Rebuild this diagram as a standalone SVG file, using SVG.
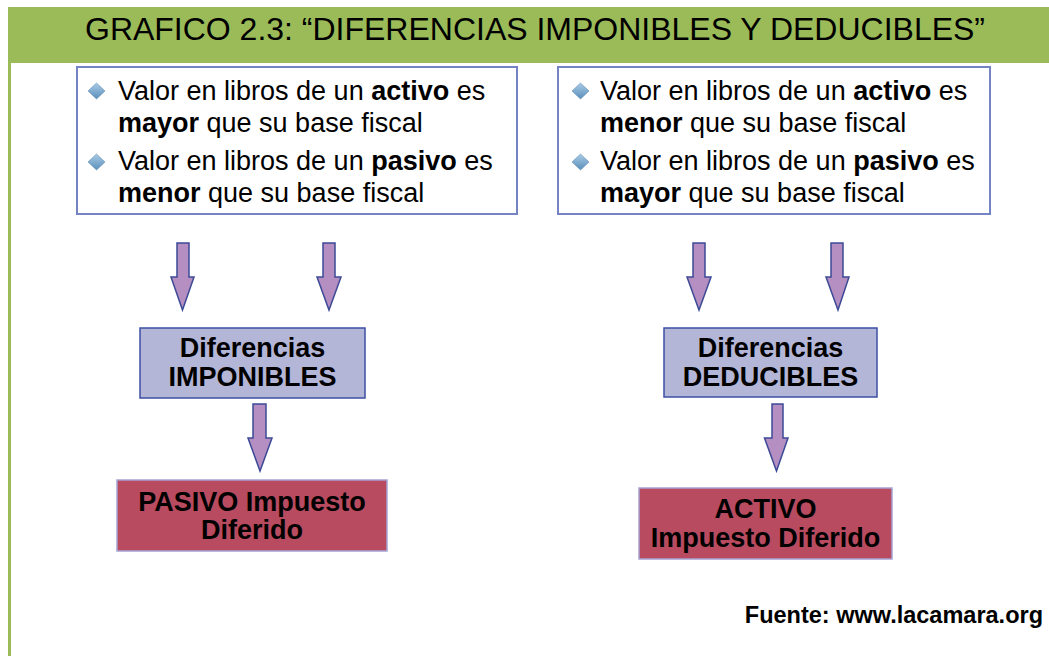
<svg xmlns="http://www.w3.org/2000/svg" width="1049" height="656" viewBox="0 0 1049 656">
<defs>
<linearGradient id="dg" x1="0" y1="0" x2="0" y2="1">
<stop offset="0" stop-color="#a9cbe6"/>
<stop offset="1" stop-color="#5b8fba"/>
</linearGradient>
<style>
.t{font-family:"Liberation Sans",Arial,sans-serif;fill:#000}
.lst{font-size:27px}
.b{font-weight:bold}
.nb{font-size:27px;font-weight:bold;text-anchor:middle}
.box{fill:#fff;stroke:#7383c4;stroke-width:2}
.lav{fill:#b4b6d8;stroke:#3d4fa3;stroke-width:1.5}
.red{fill:#b84b5f;stroke:#a6a3d3;stroke-width:1.5}
.arr{fill:#b58fc2;stroke:#3c4a96;stroke-width:1.5;stroke-linejoin:miter}
.dia{fill:url(#dg);stroke:#4f7fa8;stroke-width:0.5}
</style>
</defs>
<rect x="8" y="7" width="1041" height="56" fill="#9bbb59"/>
<rect x="8" y="62" width="3" height="594" fill="#9bbb59"/>
<text class="t" x="535" y="40" font-size="32" text-anchor="middle" textLength="900" lengthAdjust="spacingAndGlyphs">GRAFICO 2.3: “DIFERENCIAS IMPONIBLES Y DEDUCIBLES”</text>

<g id="box-left">
<rect class="box" x="77" y="67" width="440" height="147"/>
<polygon class="dia" points="96.5,83 105,91 96.5,99 88,91"/>
<polygon class="dia" points="96.5,154 105,162 96.5,170 88,162"/>
<text class="t lst" x="118" y="100">Valor en libros de un <tspan class="b">activo</tspan> es</text>
<text class="t lst" x="118" y="132"><tspan class="b">mayor</tspan> que su base fiscal</text>
<text class="t lst" x="118" y="170">Valor en libros de un <tspan class="b">pasivo</tspan> es</text>
<text class="t lst" x="118" y="202"><tspan class="b">menor</tspan> que su base fiscal</text>
</g>

<g id="box-right">
<rect class="box" x="558" y="67" width="432" height="147"/>
<polygon class="dia" points="580.5,83 589,91 580.5,99 572,91"/>
<polygon class="dia" points="580.5,154 589,162 580.5,170 572,162"/>
<text class="t lst" x="600" y="100">Valor en libros de un <tspan class="b">activo</tspan> es</text>
<text class="t lst" x="600" y="132"><tspan class="b">menor</tspan> que su base fiscal</text>
<text class="t lst" x="600" y="170">Valor en libros de un <tspan class="b">pasivo</tspan> es</text>
<text class="t lst" x="600" y="202"><tspan class="b">mayor</tspan> que su base fiscal</text>
</g>

<g id="connectors">
<polygon class="arr" points="177,243 189,243 189,277 194,277 182.5,310 171,277 177,277"/>
<polygon class="arr" points="323,243 335,243 335,277 341,277 329,310 317,277 323,277"/>
<polygon class="arr" points="253,404 266,404 266,438 272,438 260,471 248,438 253,438"/>
<polygon class="arr" points="693,243 705,243 705,277 711,277 699,310 687,277 693,277"/>
<polygon class="arr" points="831,243 843,243 843,277 849,277 838,310 826,277 831,277"/>
<polygon class="arr" points="772,404 783,404 783,438 788,438 776.5,471 764.5,438 772,438"/>
</g>

<g id="dif-imponibles">
<rect class="lav" x="140" y="328" width="225" height="70"/>
<text class="t nb" x="252.5" y="357">Diferencias</text>
<text class="t nb" x="252.5" y="386">IMPONIBLES</text>
</g>

<g id="dif-deducibles">
<rect class="lav" x="664" y="328" width="213" height="69"/>
<text class="t nb" x="770.5" y="357">Diferencias</text>
<text class="t nb" x="770.5" y="386">DEDUCIBLES</text>
</g>

<g id="pasivo">
<rect class="red" x="117" y="480" width="270" height="71"/>
<text class="t nb" x="252" y="511">PASIVO Impuesto</text>
<text class="t nb" x="252" y="539">Diferido</text>
</g>

<g id="activo">
<rect class="red" x="639" y="488" width="253" height="71"/>
<text class="t nb" x="765.5" y="518">ACTIVO</text>
<text class="t nb" x="765.5" y="547">Impuesto Diferido</text>
</g>

<text class="t b" x="1043" y="623" font-size="23.5" text-anchor="end">Fuente: www.lacamara.org</text>
</svg>
